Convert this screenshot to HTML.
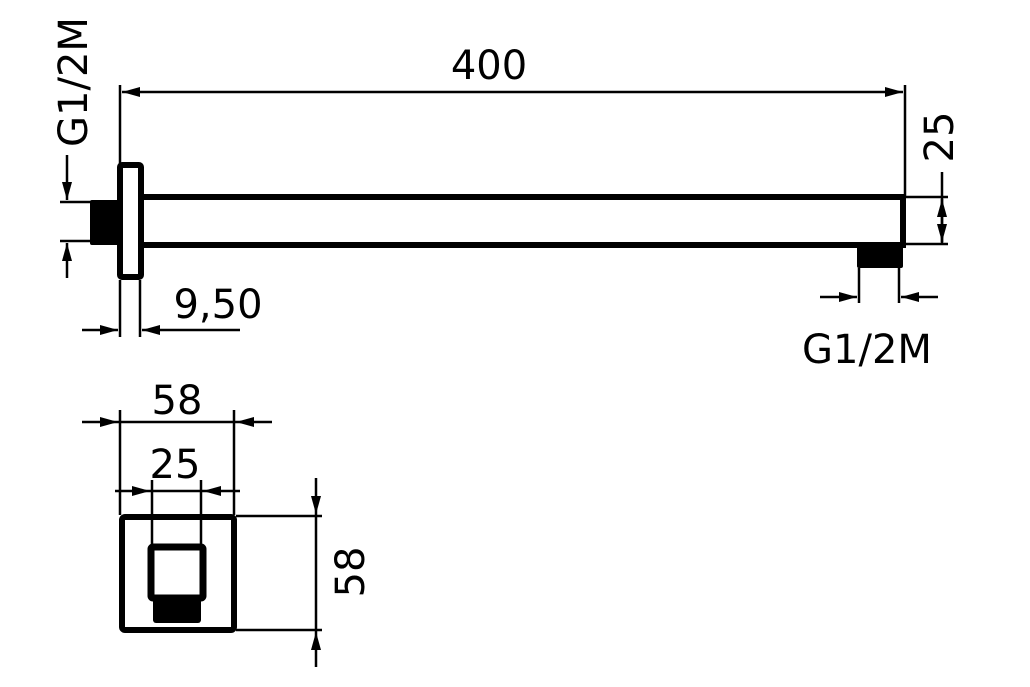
<!DOCTYPE html>
<html><head><style>html,body{margin:0;padding:0;background:#fff}svg{display:block}</style></head><body>
<svg width="1030" height="687" viewBox="0 0 1030 687" xmlns="http://www.w3.org/2000/svg">
<defs>
<marker id="a" viewBox="0 0 18 12" refX="18" refY="6" markerWidth="18" markerHeight="12" markerUnits="userSpaceOnUse" orient="auto-start-reverse"><path d="M0,1 L18,6 L0,11z" fill="#000"/></marker>
</defs>
<g stroke="#000" stroke-width="2.5" fill="none">
<line x1="120" y1="85" x2="120" y2="165"/>
<line x1="905" y1="85" x2="905" y2="196"/>
<line x1="122" y1="92" x2="903" y2="92" marker-start="url(#a)" marker-end="url(#a)"/>
<line x1="60" y1="202" x2="92" y2="202"/>
<line x1="60" y1="241" x2="92" y2="241"/>
<line x1="67" y1="155" x2="67" y2="200" marker-end="url(#a)"/>
<line x1="67" y1="278" x2="67" y2="243" marker-end="url(#a)"/>
<line x1="120" y1="280" x2="120" y2="337"/>
<line x1="140" y1="280" x2="140" y2="337"/>
<line x1="82" y1="330" x2="118" y2="330" marker-end="url(#a)"/>
<line x1="240" y1="330" x2="142" y2="330" marker-end="url(#a)"/>
<line x1="859" y1="268" x2="859" y2="303"/>
<line x1="899" y1="268" x2="899" y2="303"/>
<line x1="820" y1="297" x2="857" y2="297" marker-end="url(#a)"/>
<line x1="938" y1="297" x2="901" y2="297" marker-end="url(#a)"/>
<line x1="905" y1="197" x2="948" y2="197"/>
<line x1="905" y1="244" x2="948" y2="244"/>
<line x1="942" y1="172" x2="942" y2="244"/>
<line x1="942" y1="220" x2="942" y2="199" marker-end="url(#a)"/>
<line x1="942" y1="220" x2="942" y2="242" marker-end="url(#a)"/>
<line x1="120" y1="410" x2="120" y2="515"/>
<line x1="234" y1="410" x2="234" y2="515"/>
<line x1="82" y1="422" x2="118" y2="422" marker-end="url(#a)"/>
<line x1="272" y1="422" x2="236" y2="422" marker-end="url(#a)"/>
<line x1="118" y1="422" x2="236" y2="422"/>
<line x1="152" y1="480" x2="152" y2="548"/>
<line x1="201" y1="480" x2="201" y2="548"/>
<line x1="115" y1="491" x2="150" y2="491" marker-end="url(#a)"/>
<line x1="240" y1="491" x2="203" y2="491" marker-end="url(#a)"/>
<line x1="150" y1="491" x2="203" y2="491"/>
<line x1="236" y1="516" x2="322" y2="516"/>
<line x1="236" y1="630" x2="322" y2="630"/>
<line x1="316" y1="478" x2="316" y2="514" marker-end="url(#a)"/>
<line x1="316" y1="667" x2="316" y2="632" marker-end="url(#a)"/>
<line x1="316" y1="514" x2="316" y2="632"/>
</g>
<g stroke="#000" stroke-width="6" fill="none">
<rect x="120" y="165" width="21" height="112" rx="2"/>
<line x1="141" y1="197" x2="906" y2="197"/>
<line x1="141" y1="245" x2="906" y2="245"/>
<line x1="903" y1="194" x2="903" y2="248"/>
<rect x="122" y="517" width="112" height="113" rx="3"/>
<rect x="151" y="547" width="52" height="51" rx="2" stroke-width="7"/>
</g>
<g fill="#000">
<rect x="90" y="200" width="30" height="45" rx="2"/>
<rect x="857" y="246" width="46" height="22" rx="2"/>
<rect x="153" y="598" width="48" height="25" rx="3"/>
</g>
<g font-family="'DejaVu Sans','Liberation Sans',sans-serif" font-size="40" fill="#000" text-anchor="middle">
<text x="489" y="79">400</text>
<text x="218" y="318">9,50</text>
<text x="867" y="363">G1/2M</text>
<text x="177" y="414">58</text>
<text x="175" y="478">25</text>
<text transform="translate(87,82) rotate(-90)">G1/2M</text>
<text transform="translate(953,137) rotate(-90)">25</text>
<text transform="translate(364,572) rotate(-90)">58</text>
</g>
</svg>
</body></html>
